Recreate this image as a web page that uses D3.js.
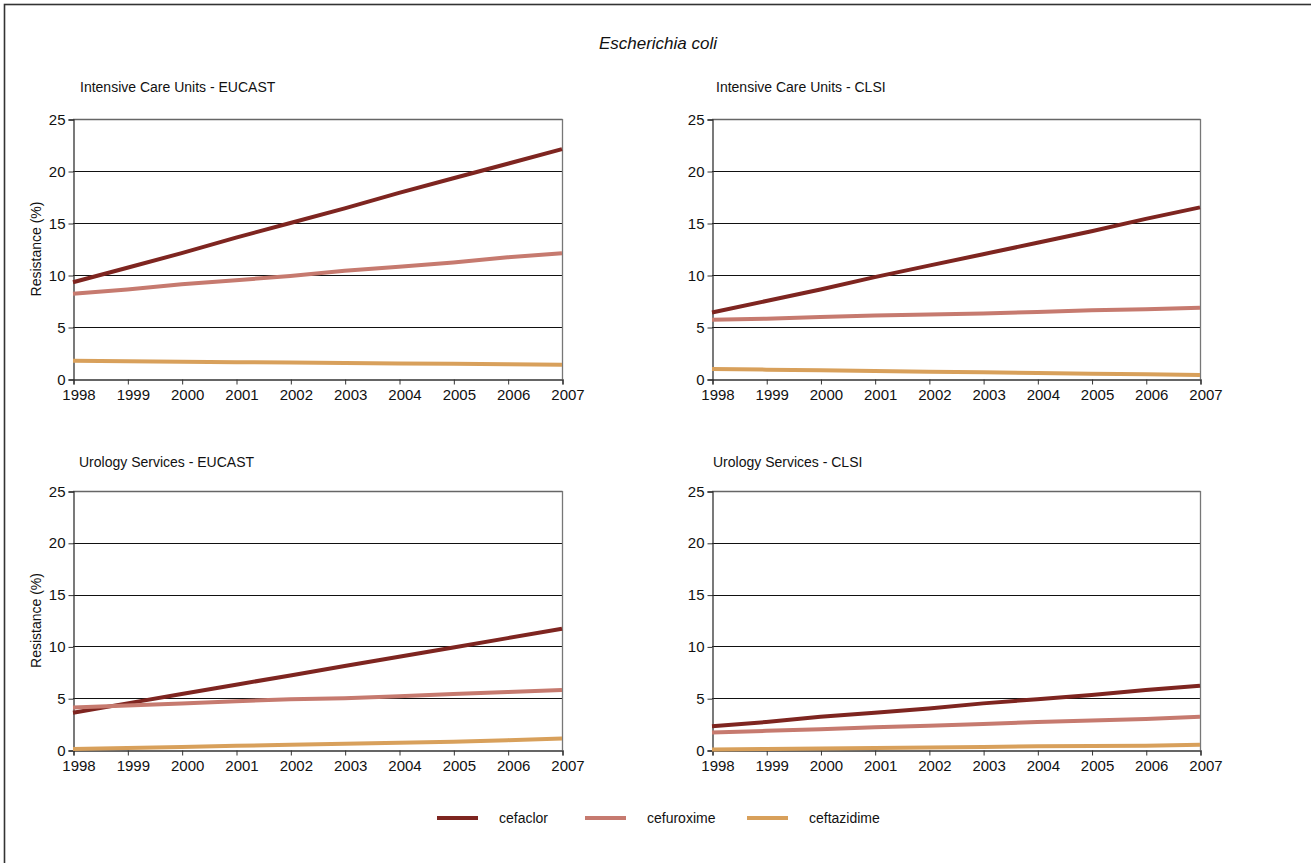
<!DOCTYPE html>
<html><head><meta charset="utf-8">
<script src="https://cdn.jsdelivr.net/npm/d3@7"></script>
<style>
body{margin:0;background:#fff}
svg{display:block}
text{font-family:"Liberation Sans Narrow","Arial Narrow","Liberation Sans",sans-serif;fill:#111}
</style>
</head><body>
<svg id="c" width="1311" height="863"></svg>
<script>
// ---- data ----
const years = [1998, 1999, 2000, 2001, 2002, 2003, 2004, 2005, 2006, 2007];
const yTicks = [0, 5, 10, 15, 20, 25];
const drugs = ["cefaclor", "cefuroxime", "ceftazidime"];
const drugColors = ["#7e2520", "#c67a6f", "#d8a05b"];
const chartTitle = "Escherichia coli";
const yAxisTitle = "Resistance (%)";
const panelTitles = ["Intensive Care Units - EUCAST", "Intensive Care Units - CLSI",
                     "Urology Services - EUCAST", "Urology Services - CLSI"];

const icuEucastCefaclor    = [9.3, 10.7, 12.1, 13.6, 15.0, 16.4, 17.9, 19.3, 20.7, 22.1];
const icuEucastCefuroxime  = [8.2, 8.6, 9.1, 9.5, 9.9, 10.4, 10.8, 11.2, 11.7, 12.1];
const icuEucastCeftazidime = [1.75, 1.7, 1.66, 1.62, 1.58, 1.54, 1.5, 1.46, 1.42, 1.38];

const icuClsiCefaclor    = [6.4, 7.5, 8.6, 9.8, 10.9, 12.0, 13.1, 14.2, 15.4, 16.5];
const icuClsiCefuroxime  = [5.7, 5.8, 5.95, 6.1, 6.2, 6.3, 6.45, 6.6, 6.7, 6.85];
const icuClsiCeftazidime = [0.95, 0.9, 0.83, 0.77, 0.7, 0.64, 0.58, 0.51, 0.45, 0.38];

const uroEucastCefaclor    = [3.6, 4.5, 5.4, 6.3, 7.2, 8.1, 9.0, 9.9, 10.8, 11.7];
const uroEucastCefuroxime  = [4.1, 4.3, 4.5, 4.7, 4.9, 5.0, 5.2, 5.4, 5.6, 5.8];
const uroEucastCeftazidime = [0.1, 0.2, 0.3, 0.4, 0.5, 0.6, 0.7, 0.8, 0.95, 1.1];

const uroClsiCefaclor    = [2.3, 2.7, 3.2, 3.6, 4.0, 4.5, 4.9, 5.3, 5.8, 6.2];
const uroClsiCefuroxime  = [1.7, 1.85, 2.0, 2.2, 2.35, 2.5, 2.7, 2.85, 3.0, 3.2];
const uroClsiCeftazidime = [0.05, 0.1, 0.15, 0.2, 0.25, 0.3, 0.35, 0.38, 0.42, 0.5];

const panelSeries = [
  [icuEucastCefaclor, icuEucastCefuroxime, icuEucastCeftazidime],
  [icuClsiCefaclor, icuClsiCefuroxime, icuClsiCeftazidime],
  [uroEucastCefaclor, uroEucastCefuroxime, uroEucastCeftazidime],
  [uroClsiCefaclor, uroClsiCefuroxime, uroClsiCeftazidime]
];

// ---- layout ----
const svg = d3.select("#c");
svg.append("rect").attr("x", 4.5).attr("y", 4.5).attr("width", 1400).attr("height", 1000)
  .attr("fill", "none").attr("stroke", "#333").attr("stroke-width", 1.6);

svg.append("text").attr("x", 658).attr("y", 49).attr("text-anchor", "middle")
  .style("font-style", "italic").style("font-size", "17px").text(chartTitle);

const layout = [
  {left: 73, right: 562, top: 119, bottom: 379, tx: 80, ty: 92, ylab: true},
  {left: 712, right: 1200, top: 119, bottom: 379, tx: 716, ty: 92, ylab: false},
  {left: 73, right: 562, top: 491, bottom: 750, tx: 79, ty: 467, ylab: true},
  {left: 712, right: 1200, top: 491, bottom: 750, tx: 713, ty: 467, ylab: false}
];

layout.forEach((L, i) => {
  const g = svg.append("g");
  const x = d3.scaleLinear().domain([years[0], years[years.length - 1]]).range([L.left, L.right]);
  const y = d3.scaleLinear().domain([0, 25]).range([L.bottom, L.top]);

  g.append("text").attr("x", L.tx).attr("y", L.ty).style("font-size", "14px").text(panelTitles[i]);

  // gridlines
  g.selectAll("line.grid").data(yTicks.filter(t => t > 0 && t < 25)).join("line")
    .attr("x1", L.left).attr("x2", L.right)
    .attr("y1", d => Math.round(y(d)) + 0.5).attr("y2", d => Math.round(y(d)) + 0.5)
    .attr("stroke", "#111").attr("stroke-width", 1);
  // top and right border
  g.append("line").attr("x1", L.left).attr("x2", L.right + 0.5)
    .attr("y1", Math.round(y(25)) + 0.5).attr("y2", Math.round(y(25)) + 0.5)
    .attr("stroke", "#666").attr("stroke-width", 1.3);
  g.append("line").attr("x1", L.right + 0.5).attr("x2", L.right + 0.5)
    .attr("y1", y(25)).attr("y2", y(0))
    .attr("stroke", "#777").attr("stroke-width", 1.3);

  // y axis
  const yAx = g.append("g").attr("transform", `translate(${L.left + 0.5},0.5)`)
    .call(d3.axisLeft(y).tickValues(yTicks).tickSize(5).tickPadding(3).tickFormat(d3.format("d")));
  yAx.select(".domain").attr("stroke", "#333").attr("stroke-width", 1.3);
  yAx.selectAll(".tick line").attr("stroke", "#333");
  yAx.selectAll("text").style("font-size", "15px").attr("fill", "#111").attr("dy", "0.3em");

  // x axis
  const xAx = g.append("g").attr("transform", `translate(0.5,${L.bottom + 0.5})`)
    .call(d3.axisBottom(x).tickValues(years).tickSize(5).tickPadding(5).tickFormat(d3.format("d")));
  xAx.select(".domain").attr("stroke", "#333").attr("stroke-width", 1.3);
  xAx.selectAll(".tick line").attr("stroke", "#333");
  xAx.selectAll("text").style("font-size", "15px").attr("fill", "#111").attr("dx", 5);

  if (L.ylab) {
    g.append("text").attr("transform", `translate(41,${(L.top + L.bottom) / 2}) rotate(-90)`)
      .attr("text-anchor", "middle").style("font-size", "14px").text(yAxisTitle);
  }

  const line = d3.line().x((d, j) => x(years[j])).y(d => y(d));
  panelSeries[i].forEach((vals, k) => {
    g.append("path").datum(vals).attr("d", line)
      .attr("fill", "none").attr("stroke", drugColors[k]).attr("stroke-width", 4)
      .attr("stroke-linejoin", "round");
  });
});

// legend
const legendX = [437, 585, 747];
drugs.forEach((name, k) => {
  svg.append("line").attr("x1", legendX[k]).attr("x2", legendX[k] + 41)
    .attr("y1", 818).attr("y2", 818).attr("stroke", drugColors[k]).attr("stroke-width", 4);
  svg.append("text").attr("x", legendX[k] + 62).attr("y", 823).style("font-size", "14px").text(name);
});
</script>
</body></html>
